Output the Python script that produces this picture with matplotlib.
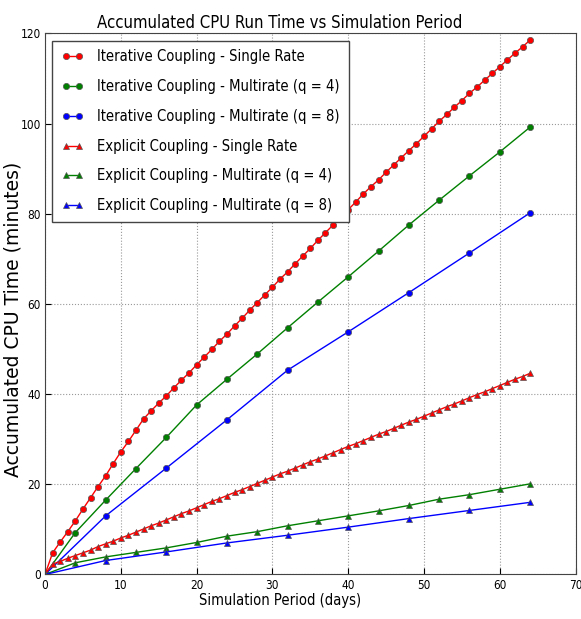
import matplotlib
matplotlib.use("Agg")
import matplotlib.pyplot as plt

plt.rcParams['font.family'] = ['DejaVu Sans']
plt.rcParams['font.stretch'] = 'condensed'

# simulation days sampled by each run
days_1 = list(range(0, 65))
days_4 = list(range(0, 65, 4))
days_8 = list(range(0, 65, 8))

# accumulated CPU time (minutes)
iter_single = [0, 4.8, 7.2, 9.5, 11.9, 14.5, 17.0, 19.5, 21.9, 24.6,
               27.2, 29.5, 32.0, 34.5, 36.3, 38.0, 39.6, 41.4, 43.1, 44.7,
               46.5, 48.2, 49.9, 51.7, 53.3, 55.1, 56.8, 58.6, 60.3, 62.0,
               63.7, 65.5, 67.1, 68.9, 70.6, 72.3, 74.1, 75.8, 77.5, 79.2,
               80.9, 82.6, 84.4, 86.0, 87.5, 89.2, 90.8, 92.4, 94.0, 95.5,
               97.2, 98.8, 100.5, 102.0, 103.6, 105.1, 106.7, 108.1, 109.6, 111.1,
               112.6, 114.1, 115.6, 117.0, 118.5]
iter_q4 = [0, 9.3, 16.5, 23.5, 30.4, 37.6, 43.3, 48.9, 54.7, 60.4,
           66.0, 71.7, 77.5, 83.0, 88.4, 93.7, 99.2]
iter_q8 = [0, 13.0, 23.6, 34.3, 45.3, 53.8, 62.5, 71.3, 80.2]

expl_single = [0, 2.3, 2.9, 3.6, 4.2, 4.8, 5.4, 6.2, 6.8, 7.4,
               8.1, 8.7, 9.4, 10.1, 10.8, 11.4, 12.1, 12.8, 13.5, 14.1,
               14.8, 15.5, 16.2, 16.8, 17.5, 18.2, 18.8, 19.5, 20.2, 20.9,
               21.6, 22.3, 22.9, 23.6, 24.3, 25.0, 25.6, 26.3, 27.0, 27.7,
               28.4, 29.0, 29.7, 30.4, 31.1, 31.7, 32.4, 33.1, 33.8, 34.4,
               35.1, 35.8, 36.5, 37.2, 37.8, 38.5, 39.2, 39.9, 40.5, 41.2,
               41.9, 42.6, 43.3, 43.9, 44.6]
expl_q4 = [0, 2.6, 3.9, 4.9, 5.9, 7.1, 8.5, 9.5, 10.8, 11.9,
           13.0, 14.1, 15.3, 16.7, 17.7, 18.9, 20.1]
expl_q8 = [0, 3.1, 5.0, 7.0, 8.7, 10.5, 12.4, 14.2, 16.0]

fig = plt.figure(figsize=(5.81, 6.19), dpi=100)
ax = fig.add_axes([0.0775, 0.0719, 0.9132, 0.8743])

kw = dict(lw=1, ms=4.5, mew=0.5, mec='#555555')
ax.plot(days_1, iter_single, 'r-o', label='Iterative Coupling - Single Rate', **kw)
ax.plot(days_4, iter_q4, 'g-o', label='Iterative Coupling - Multirate (q = 4)', **kw)
ax.plot(days_8, iter_q8, 'b-o', label='Iterative Coupling - Multirate (q = 8)', **kw)
ax.plot(days_1, expl_single, 'r-^', label='Explicit Coupling - Single Rate', **kw)
ax.plot(days_4, expl_q4, 'g-^', label='Explicit Coupling - Multirate (q = 4)', **kw)
ax.plot(days_8, expl_q8, 'b-^', label='Explicit Coupling - Multirate (q = 8)', **kw)

ax.set_xlim(0, 70)
ax.set_ylim(0, 120)
ax.set_xticks(range(0, 71, 10))
ax.set_yticks(range(0, 121, 20))
ax.tick_params(direction='in', labelsize=8.5, pad=3, length=4)
ax.grid(True, color='0.6', linestyle=':', lw=0.8)
for s in ax.spines.values():
    s.set_color('#444444')

ax.set_title('Accumulated CPU Run Time vs Simulation Period', fontsize=12, x=0.443, pad=4)
ax.set_xlabel('Simulation Period (days)', fontsize=10.5)
ax.xaxis.set_label_coords(0.443, -0.034)
ax.set_ylabel('Accumulated CPU Time (minutes)', fontsize=13.5, fontstretch='normal')
ax.yaxis.set_label_coords(-0.043, 0.472)

leg = ax.legend(loc='upper left', prop={'size': 10.6, 'stretch': 'condensed'}, numpoints=2,
                fancybox=False, framealpha=1, edgecolor='#444444', handlelength=1.5,
                labelspacing=1.0, borderaxespad=0.5, handletextpad=0.95, borderpad=0.6)
leg.get_frame().set_linewidth(1)

fig.savefig('out.png', dpi=100, facecolor='white')
